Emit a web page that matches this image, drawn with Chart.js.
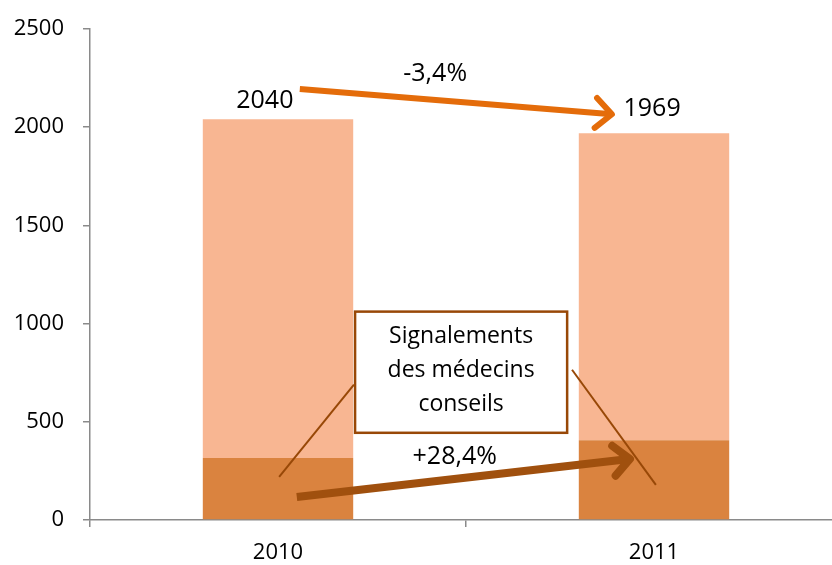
<!DOCTYPE html>
<html>
<head>
<meta charset="utf-8">
<script src="https://cdn.jsdelivr.net/npm/chart.js@4"></script>
<style>
  html, body { margin: 0; padding: 0; background: #fff; }
  #wrap { width: 832px; height: 565px; overflow: hidden; }
</style>
</head>
<body>
<div id="wrap"><canvas id="chart" width="842" height="565"></canvas></div>
<script>
const years = ['2010', '2011'];
const medecinsConseils = [316, 406];
const autresSignalements = [1724, 1563];
const totals = [2040, 1969];
const evolTotal = '-3,4%';
const evolMedecins = '+28,4%';
const calloutLines = ['Signalements', 'des médecins', 'conseils'];

const FONT = '"Open Sans", "DejaVu Sans", sans-serif';

// annotation placement, in scale units (x = category index, y = value)
const notes = {
  totalArrow: { from: [0.058, 2194], to: [0.888, 2066], color: '#E46C0A', width: 6 },
  medArrow: { from: [0.05, 117], to: [0.936, 311], color: '#A0500E', width: 8 },
  totalLabels: [[-0.035, 2133], [0.995, 2092]],
  totalPct: [0.418, 2270],
  medPct: [0.47, 321],
  box: { x0: 0.205, x1: 0.769, y0: 1061, y1: 444 },
  leaders: [
    [[0.202, 689], [0.003, 219]],
    [[0.782, 765], [1.005, 179]]
  ]
};

function arrow(ctx, x1, y1, x2, y2, color, w) {
  const ang = Math.atan2(y2 - y1, x2 - x1);
  const head = 22;
  ctx.save();
  ctx.strokeStyle = color;
  ctx.lineWidth = w;
  ctx.lineCap = 'butt';
  ctx.beginPath();
  ctx.moveTo(x1, y1);
  ctx.lineTo(x2 - Math.cos(ang) * 3, y2 - Math.sin(ang) * 3);
  ctx.stroke();
  ctx.lineCap = 'round';
  ctx.lineJoin = 'round';
  ctx.beginPath();
  ctx.moveTo(x2 - head * Math.cos(ang - 0.75), y2 - head * Math.sin(ang - 0.75));
  ctx.lineTo(x2, y2);
  ctx.lineTo(x2 - head * Math.cos(ang + 0.75), y2 - head * Math.sin(ang + 0.75));
  ctx.stroke();
  ctx.restore();
}

const annotations = {
  id: 'annotations',
  afterDatasetsDraw(chart) {
    const ctx = chart.ctx;
    const xs = chart.scales.x, ys = chart.scales.y;
    const px = (p) => [xs.getPixelForValue(p[0]), ys.getPixelForValue(p[1])];

    ctx.save();
    // leader lines of the callout
    ctx.strokeStyle = '#984807';
    ctx.lineWidth = 2;
    notes.leaders.forEach(([a, b]) => {
      const pa = px(a), pb = px(b);
      ctx.beginPath();
      ctx.moveTo(pa[0], pa[1]);
      ctx.lineTo(pb[0], pb[1]);
      ctx.stroke();
    });

    // callout box
    const bx0 = xs.getPixelForValue(notes.box.x0), bx1 = xs.getPixelForValue(notes.box.x1);
    const by0 = ys.getPixelForValue(notes.box.y0), by1 = ys.getPixelForValue(notes.box.y1);
    ctx.fillStyle = '#ffffff';
    ctx.fillRect(bx0, by0, bx1 - bx0, by1 - by0);
    ctx.lineWidth = 2.5;
    ctx.strokeRect(bx0, by0, bx1 - bx0, by1 - by0);
    ctx.fillStyle = '#000';
    ctx.font = '23px ' + FONT;
    ctx.textAlign = 'center';
    ctx.textBaseline = 'middle';
    const cx = (bx0 + bx1) / 2, cy = (by0 + by1) / 2;
    calloutLines.forEach((t, i) => {
      ctx.fillText(t, cx, cy + (i - 1) * 34 - 2);
    });

    // arrows
    [notes.totalArrow, notes.medArrow].forEach(a => {
      const p1 = px(a.from), p2 = px(a.to);
      arrow(ctx, p1[0], p1[1], p2[0], p2[1], a.color, a.width);
    });

    // value labels
    ctx.font = '25px ' + FONT;
    ctx.fillStyle = '#000';
    notes.totalLabels.forEach((p, i) => {
      const q = px(p);
      ctx.fillText(String(totals[i]), q[0], q[1]);
    });
    let q = px(notes.totalPct);
    ctx.fillText(evolTotal, q[0], q[1]);
    q = px(notes.medPct);
    ctx.fillText(evolMedecins, q[0], q[1]);
    ctx.restore();
  }
};

new Chart(document.getElementById('chart'), {
  type: 'bar',
  data: {
    labels: years,
    datasets: [
      {
        label: 'Signalements des médecins conseils',
        data: medecinsConseils,
        backgroundColor: '#DA833F'
      },
      {
        label: 'Autres signalements',
        data: autresSignalements,
        backgroundColor: '#F8B692'
      }
    ]
  },
  options: {
    responsive: false,
    animation: false,
    events: [],
    layout: { padding: { top: 29, right: 0, left: 0, bottom: 0 } },
    datasets: { bar: { categoryPercentage: 1, barPercentage: 0.4 } },
    plugins: {
      legend: { display: false },
      tooltip: { enabled: false }
    },
    scales: {
      x: {
        stacked: true,
        offset: true,
        afterFit(scale) { scale.height = 45; },
        grid: { offset: true, drawOnChartArea: false, color: '#8a8a8a', tickLength: 7, lineWidth: 1.5 },
        border: { color: '#8a8a8a', width: 1.5 },
        ticks: { color: '#000', font: { family: FONT, size: 22 }, padding: 13 }
      },
      y: {
        stacked: true,
        min: 0,
        max: 2500,
        afterFit(scale) { scale.width = 90; scale.paddingTop = 0; },
        grid: { drawOnChartArea: false, color: '#8a8a8a', tickLength: 7, lineWidth: 1.5 },
        border: { color: '#8a8a8a', width: 1.5 },
        ticks: {
          stepSize: 500,
          color: '#000',
          font: { family: FONT, size: 22, lineHeight: 0.9 },
          padding: 19,
          callback: (v) => String(v)
        }
      }
    }
  },
  plugins: [annotations]
});
</script>
</body>
</html>
